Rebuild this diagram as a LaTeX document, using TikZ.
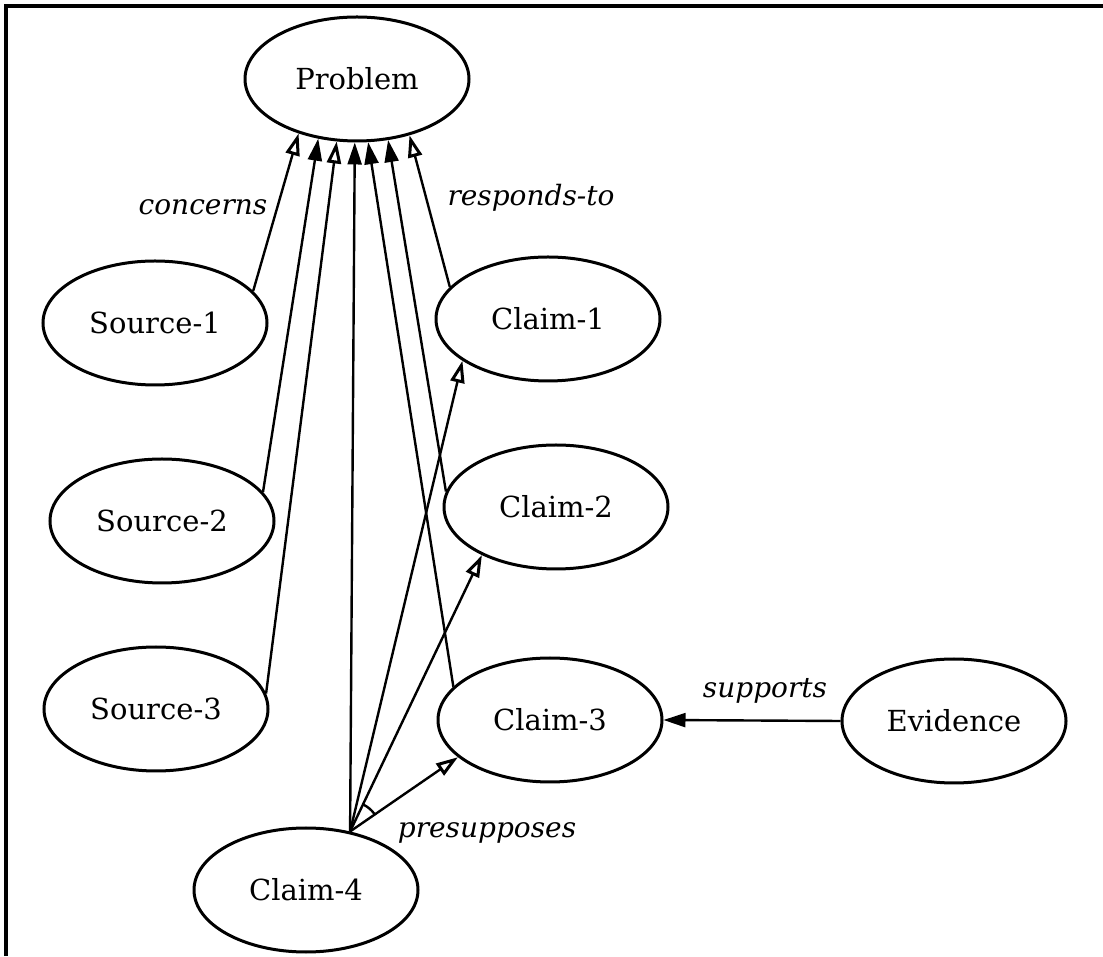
\documentclass[tikz,border=0pt]{standalone}
\usepackage{fontspec}
\setmainfont{DejaVu Serif}
\usetikzlibrary{shapes.geometric,arrows.meta}
\tikzset{
  ell/.style={ellipse,draw,line width=3pt,minimum width=224pt,minimum height=124pt,inner sep=0pt,font=\fontsize{29}{35}\selectfont},
  lbl/.style={font=\fontsize{28}{34}\selectfont\itshape,inner sep=0pt},
  fa/.style={line width=2.4pt,-{Triangle[length=22pt,width=14pt]}},
  oa/.style={line width=2.4pt,-{Triangle[length=22pt,width=14pt,open,line width=3pt]}},
}
\begin{document}
\begin{tikzpicture}[x=1pt,y=1pt]
\useasboundingbox (0,0) rectangle (1103,956);
\draw[line width=3.5pt] (6,0) -- (6,950) -- (1103,950);

\node[ell] (P)  at (357,877) {Problem};
\node[ell] (S1) at (155,633) {Source-1};
\node[ell] (S2) at (162,435) {Source-2};
\node[ell] (S3) at (156,247) {Source-3};
\node[ell] (C1) at (548,637) {Claim-1};
\node[ell] (C2) at (556,449) {Claim-2};
\node[ell] (C3) at (550,236) {Claim-3};
\node[ell] (E)  at (954,235) {Evidence};
\node[ell] (C4) at (306,66)  {Claim-4};

\node[lbl] (lconc) at (203,749) {concerns};
\node[lbl] (lresp) at (531,758) {responds-to};
\node[lbl] (lsup)  at (765,265) {supports};
\node[lbl] (lpre)  at (487,123) {presupposes};

\draw[oa] (S1.18)   -- (P.-137.8);
\draw[fa] (S2.16.4) -- (P.-123.2);
\draw[oa] (S3.8.7)  -- (P.-108.7);
\draw[fa] (C4.53.6) -- (P.-92);
\draw[fa] (C3.161)  -- (P.-80.5);
\draw[fa] (C2.172)  -- (P.-63.4);
\draw[oa] (C1.162.3) -- (P.-47);

\draw[oa] (C4.53.6) -- (C1.-154);
\draw[oa] (C4.53.6) -- (C2.-147.7);
\draw[oa] (C4.53.6) -- (C3.-158.7);

\draw[fa] (E.west) -- (C3.east);

\coordinate (o) at (C4.53.6);
\draw[line width=2.4pt] ([shift={(63:30)}]o) arc[start angle=63,end angle=36,radius=30];
\end{tikzpicture}
\end{document}
